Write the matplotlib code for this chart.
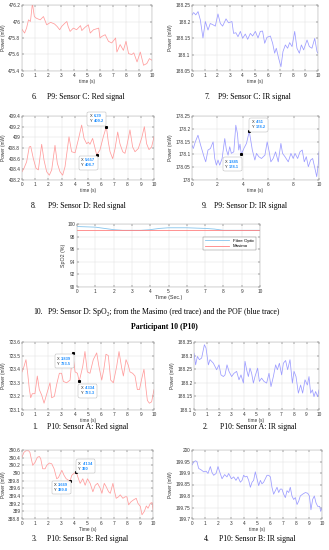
"""Page of pulse-oximetry traces: P9 sensors C/D and P10 sensors A/B."""

import matplotlib

matplotlib.use("Agg")
import matplotlib.pyplot as plt
from matplotlib.offsetbox import AnnotationBbox, HPacker, TextArea, VPacker
from matplotlib.ticker import FuncFormatter

W, H = 329, 550

# ---- data (time s, power mW) ----
P9C_RED = [(0, 475.905), (0.2, 475.86), (0.35, 475.92), (0.5, 476.02), (0.65, 476.0), (0.8, 476.22),
           (0.95, 476.06), (1.1, 476.04), (1.4, 476.02), (1.65, 476.06), (1.9, 475.96), (2.2, 475.99),
           (2.5, 475.97), (2.7, 475.94), (2.9, 475.9), (3.05, 475.94), (3.3, 475.98), (3.45, 476.0),
           (3.55, 475.94), (3.7, 475.88), (3.95, 475.92), (4.2, 475.9), (4.5, 475.95), (4.6, 475.89),
           (4.85, 475.93), (5.1, 475.96), (5.25, 475.86), (5.5, 475.9), (5.9, 475.92), (6.0, 475.8),
           (6.15, 475.82), (6.4, 475.84), (6.65, 475.76), (6.9, 475.74), (7.2, 475.8), (7.3, 475.63),
           (7.55, 475.72), (7.8, 475.65), (8.0, 475.76), (8.2, 475.61), (8.45, 475.6), (8.6, 475.62),
           (8.85, 475.51), (9.1, 475.63), (9.35, 475.47), (9.6, 475.49), (9.8, 475.55), (10, 475.53)]

P9C_IR = [(0, 188.22), (0.13, 188.227), (0.3, 188.22), (0.48, 188.23), (0.66, 188.205), (0.87, 188.15),
          (1.06, 188.2), (1.27, 188.174), (1.45, 188.194), (1.67, 188.19), (1.85, 188.186), (2.06, 188.223),
          (2.25, 188.194), (2.43, 188.186), (2.7, 188.208), (2.9, 188.196), (3.17, 188.2), (3.3, 188.164),
          (3.48, 188.166), (3.65, 188.154), (3.84, 188.17), (4.02, 188.149), (4.23, 188.162), (4.42, 188.146),
          (4.63, 188.164), (4.81, 188.156), (5.03, 188.17), (5.24, 188.15), (5.42, 188.17), (5.6, 188.171),
          (5.77, 188.134), (5.95, 188.152), (6.22, 188.156), (6.4, 188.134), (6.56, 188.104), (6.69, 188.119),
          (6.88, 188.088), (7.06, 188.063), (7.22, 188.109), (7.41, 188.129), (7.59, 188.119), (7.75, 188.136),
          (7.94, 188.124), (8.15, 188.17), (8.33, 188.119), (8.52, 188.104), (8.68, 188.129), (8.86, 188.114),
          (9.13, 188.144), (9.31, 188.124), (9.52, 188.119), (9.74, 188.149), (9.92, 188.109), (10, 188.104)]

P9D_RED = [(0, 408.355), (0.15, 408.42), (0.35, 408.54), (0.55, 408.82), (0.66, 408.83), (0.86, 408.6),
           (1.06, 408.42), (1.24, 408.39), (1.49, 408.87), (1.67, 408.57), (1.87, 408.355), (2.07, 408.29),
           (2.25, 408.39), (2.5, 408.85), (2.68, 408.51), (2.88, 408.355), (3.08, 408.29), (3.26, 408.45),
           (3.56, 409.01), (3.76, 408.73), (4.02, 408.71), (4.27, 408.96), (4.52, 409.23), (4.7, 408.98),
           (4.9, 408.88), (5.03, 408.91), (5.15, 408.87), (5.35, 408.98), (5.657, 408.67), (5.9, 408.76),
           (6.16, 409.01), (6.39, 409.2), (6.54, 408.91), (6.67, 408.73), (6.87, 408.6), (7.05, 408.79),
           (7.25, 409.1), (7.42, 408.88), (7.63, 408.73), (7.8, 408.7), (7.95, 408.85), (8.18, 409.14),
           (8.38, 408.82), (8.56, 408.73), (8.81, 408.79), (9.07, 408.99), (9.27, 409.2), (9.44, 408.88),
           (9.62, 408.77), (9.82, 408.82), (10, 409.01)]

P9D_IR = [(0, 178.136), (0.1, 178.123), (0.26, 178.149), (0.47, 178.175), (0.68, 178.136), (0.95, 178.09),
          (1.08, 178.071), (1.26, 178.117), (1.45, 178.123), (1.66, 178.149), (1.79, 178.084), (1.92, 178.058),
          (2.05, 178.078), (2.18, 178.058), (2.37, 178.084), (2.58, 178.162), (2.71, 178.117), (2.84, 178.097),
          (2.97, 178.13), (3.1, 178.104), (3.29, 178.11), (3.45, 178.214), (3.58, 178.181), (3.68, 178.117),
          (3.78, 178.14), (3.885, 178.1), (4.1, 178.125), (4.29, 178.143), (4.51, 178.19), (4.75, 178.117),
          (4.95, 178.078), (5.08, 178.104), (5.26, 178.091), (5.47, 178.084), (5.74, 178.097), (5.92, 178.149),
          (6.08, 178.11), (6.21, 178.071), (6.39, 178.084), (6.58, 178.11), (6.79, 178.071), (7.0, 178.143),
          (7.13, 178.104), (7.32, 178.091), (7.58, 178.071), (7.79, 178.104), (7.97, 178.084), (8.11, 178.104),
          (8.32, 178.084), (8.5, 178.11), (8.68, 178.117), (8.84, 178.071), (9.0, 178.091), (9.16, 178.052),
          (9.34, 178.078), (9.5, 178.084), (9.68, 178.045), (9.82, 178.013), (9.95, 178.065), (10, 178.11)]

FIBRE_T = [0, 1, 1.5, 2, 2.5, 3, 3.5, 4, 4.5, 5, 5.5, 6, 6.5, 7, 7.5, 8, 9, 10]
FIBRE_V = [99.6, 99.5, 99.3, 99.1, 99.0, 99.0, 99.0, 99.1, 99.3, 99.4, 99.4, 99.4, 99.35, 99.3, 99.2,
           99.0, 99.0, 99.0]
MASIMO_T = [0, 1, 2, 3, 4, 5, 6, 7, 8, 9, 10]
MASIMO_V = [99, 99, 99, 99, 99, 99, 99, 99, 99, 99, 99]

P10A_RED = [(0, 723.38), (0.15, 723.42), (0.3, 723.47), (0.43, 723.37), (0.56, 723.25), (0.66, 723.19),
            (0.78, 723.22), (0.98, 723.22), (1.16, 723.35), (1.31, 723.25), (1.49, 723.21), (1.67, 723.15),
            (1.82, 723.2), (2.0, 723.26), (2.12, 723.3), (2.25, 723.19), (2.45, 723.2), (2.63, 723.29),
            (2.83, 723.37), (3.0, 723.37), (3.13, 723.31), (3.38, 723.3), (3.64, 723.32), (3.839, 723.52),
            (4.02, 723.38), (4.2, 723.37), (4.334, 723.31), (4.6, 723.42), (4.77, 723.53), (4.95, 723.38),
            (5.15, 723.37), (5.4, 723.47), (5.66, 723.52), (5.83, 723.42), (6.04, 723.32), (6.2, 723.4),
            (6.36, 723.51), (6.54, 723.5), (6.72, 723.32), (6.92, 723.3), (7.17, 723.42), (7.35, 723.53),
            (7.55, 723.41), (7.68, 723.35), (7.88, 723.47), (8.05, 723.43), (8.18, 723.38), (8.38, 723.37),
            (8.56, 723.35), (8.74, 723.25), (8.9, 723.25), (9.07, 723.33), (9.24, 723.4), (9.4, 723.25),
            (9.5, 723.17), (9.65, 723.15), (9.82, 723.16), (10, 723.25)]

P10A_IR = [(0, 188.309), (0.13, 188.266), (0.27, 188.297), (0.43, 188.285), (0.61, 188.291), (0.83, 188.34),
           (0.96, 188.328), (1.15, 188.266), (1.28, 188.285), (1.55, 188.272), (1.81, 188.248), (2.0, 188.266),
           (2.16, 188.229), (2.35, 188.223), (2.48, 188.229), (2.64, 188.266), (2.8, 188.242), (3.01, 188.223),
           (3.2, 188.235), (3.41, 188.242), (3.6, 188.211), (3.76, 188.229), (3.95, 188.199), (4.08, 188.279),
           (4.21, 188.248), (4.35, 188.223), (4.48, 188.254), (4.61, 188.235), (4.75, 188.199), (4.88, 188.223),
           (5.09, 188.254), (5.23, 188.205), (5.41, 188.217), (5.6, 188.205), (5.81, 188.199), (6.0, 188.235),
           (6.16, 188.186), (6.35, 188.223), (6.53, 188.266), (6.67, 188.248), (6.83, 188.272), (7.01, 188.229),
           (7.15, 188.272), (7.33, 188.282), (7.49, 188.248), (7.68, 188.285), (7.87, 188.199), (8.0, 188.242),
           (8.16, 188.223), (8.35, 188.162), (8.53, 188.192), (8.69, 188.162), (8.88, 188.211), (9.07, 188.192),
           (9.2, 188.223), (9.33, 188.162), (9.47, 188.174), (9.6, 188.149), (9.73, 188.168), (9.89, 188.149),
           (10, 188.174)]

P10B_RED = [(0, 390.41), (0.15, 390.54), (0.3, 390.58), (0.5, 390.58), (0.6, 390.54), (0.82, 390.2),
            (1.0, 390.28), (1.17, 390.41), (1.33, 390.43), (1.43, 390.37), (1.58, 390.11), (1.76, 390.11),
            (1.89, 390.2), (2.09, 390.26), (2.27, 390.24), (2.45, 390.11), (2.65, 389.85), (2.78, 389.88),
            (3.04, 390.07), (3.21, 389.94), (3.37, 389.85), (3.669, 389.79), (3.8, 389.94), (3.93, 389.98),
            (4.134, 390.03), (4.31, 389.85), (4.44, 389.73), (4.64, 389.85), (4.82, 389.68), (5.0, 389.85),
            (5.2, 389.73), (5.41, 389.51), (5.59, 389.68), (5.77, 389.73), (5.97, 389.6), (6.1, 389.47),
            (6.28, 389.73), (6.43, 389.64), (6.61, 389.51), (6.74, 389.47), (6.94, 389.73), (7.07, 389.51),
            (7.19, 389.34), (7.37, 389.38), (7.5, 389.43), (7.7, 389.34), (7.88, 389.38), (8.01, 389.38),
            (8.14, 389.17), (8.32, 389.25), (8.52, 389.3), (8.72, 389.34), (8.85, 389.21), (9.03, 389.13),
            (9.16, 388.91), (9.34, 389.0), (9.49, 389.14), (9.62, 389.08), (9.8, 389.21), (9.93, 389.23),
            (10, 389.04)]

P10B_IR = [(0, 199.935), (0.13, 199.947), (0.26, 199.953), (0.38, 199.95), (0.51, 199.92), (0.72, 199.913),
           (0.9, 199.905), (1.08, 199.908), (1.23, 199.898), (1.41, 199.928), (1.54, 199.902), (1.67, 199.89),
           (1.85, 199.898), (2.0, 199.928), (2.13, 199.905), (2.31, 199.875), (2.51, 199.893), (2.69, 199.883),
           (2.82, 199.898), (3.03, 199.875), (3.21, 199.883), (3.38, 199.868), (3.54, 199.883), (3.72, 199.86),
           (3.85, 199.868), (3.97, 199.89), (4.1, 199.883), (4.23, 199.886), (4.36, 199.868), (4.49, 199.838),
           (4.62, 199.86), (4.74, 199.868), (4.87, 199.905), (5.0, 199.875), (5.13, 199.845), (5.26, 199.868),
           (5.38, 199.853), (5.51, 199.86), (5.64, 199.875), (5.77, 199.89), (5.9, 199.89), (6.03, 199.883),
           (6.15, 199.838), (6.28, 199.808), (6.41, 199.823), (6.54, 199.838), (6.67, 199.815), (6.79, 199.83),
           (6.92, 199.83), (7.05, 199.808), (7.18, 199.793), (7.31, 199.823), (7.44, 199.815), (7.56, 199.838),
           (7.69, 199.8), (7.82, 199.785), (7.95, 199.793), (8.08, 199.763), (8.21, 199.778), (8.33, 199.8),
           (8.51, 199.808), (8.72, 199.815), (8.9, 199.812), (9.03, 199.8), (9.15, 199.74), (9.28, 199.785),
           (9.41, 199.8), (9.54, 199.77), (9.67, 199.755), (9.82, 199.755), (9.9, 199.733), (10, 199.748)]

RED = "#ff9c9c"
IR = "#9c9cff"
TIP_BLUE = "#1f8fff"
TICK_FS = 3.4
CAP_FS = 5.6
SERIF = ["Liberation Serif", "DejaVu Serif"]

plt.rcParams["font.family"] = ["Liberation Sans", "DejaVu Sans"]

fig = plt.figure(figsize=(W / 100, H / 100), dpi=100)
fig.patch.set_facecolor("white")


def px_axes(l, t, r, b):
    return fig.add_axes([l / W, 1 - b / H, (r - l) / W, (b - t) / H])


def style(ax, xlim, ylim, xticks, yticks, xlabel, ylabel):
    ax.set_xlim(*xlim)
    ax.set_ylim(*ylim)
    ax.set_xticks(xticks)
    ax.set_yticks(yticks)
    ax.yaxis.set_major_formatter(FuncFormatter(lambda v, _: f"{round(v, 3):g}"))
    ax.tick_params(direction="in", length=1.2, width=0.3, pad=1.2,
                   labelsize=TICK_FS, colors="#333333", top=True, right=True)
    ax.grid(True, color="#dddddd", lw=0.3)
    ax.set_axisbelow(True)
    for s in ax.spines.values():
        s.set_color("#aaaaaa")
        s.set_linewidth(0.35)
    ax.set_xlabel(xlabel, fontsize=TICK_FS, labelpad=1.0, color="#333333")
    ax.set_ylabel(ylabel, fontsize=TICK_FS, labelpad=1.5, color="#333333")


def signal_panel(rect, series, color, ylim, yticks, xticks=range(11)):
    ax = px_axes(*rect)
    t, v = zip(*series)
    ax.plot(t, v, color=color, lw=0.55, clip_on=True)
    style(ax, (0, 10), ylim, list(xticks), yticks, "time (s)", "Power (mW)")
    return ax


def datatip(ax, x, y, xs, ys, off):
    ax.plot([x], [y], marker="s", ms=1.2, color="black", zorder=5)
    rows = []
    for k, val in (("X", xs), ("Y", ys)):
        rows.append(HPacker(children=[
            TextArea(k + " ", textprops=dict(fontsize=2.9, color="#222222")),
            TextArea(val, textprops=dict(fontsize=2.9, color=TIP_BLUE, weight="bold")),
        ], pad=0, sep=0.2, align="baseline"))
    box = VPacker(children=rows, pad=0, sep=0.8, align="left")
    ab = AnnotationBbox(box, (x, y), xybox=off, boxcoords="offset pixels",
                        frameon=True, pad=0.17, zorder=6,
                        bboxprops=dict(fc="white", ec="#aaaaaa", lw=0.3,
                                       boxstyle="round,pad=0.17,rounding_size=0.12"))
    ax.add_artist(ab)


def caption(num, x_num, x_txt, y, text):
    fig.text(x_num / W, 1 - y / H, num, fontsize=CAP_FS, family=SERIF, va="center")
    fig.text(x_txt / W, 1 - y / H, text, fontsize=CAP_FS, family=SERIF, va="center")


# ---- P9 sensor C ----
signal_panel((22, 5, 152, 71), P9C_RED, RED, (475.4, 476.2), [475.4, 475.6, 475.8, 476.0, 476.2])
signal_panel((192, 5, 318, 71), P9C_IR, IR, (188.05, 188.25),
             [188.05, 188.1, 188.15, 188.2, 188.25])
caption("6.", 32, 47, 97, "P9: Sensor C: Red signal")
caption("7.", 205, 218, 97, "P9: Sensor C: IR signal")

# ---- P9 sensor D ----
ax = signal_panel((22, 116, 154, 180), P9D_RED, RED, (408.2, 409.4),
                  [408.2, 408.4, 408.6, 408.8, 409.0, 409.2, 409.4])
datatip(ax, 6.39, 409.2, "6.39", "409.2", (-9.5, 8))
datatip(ax, 5.657, 408.67, "5.657", "408.7", (-8.5, -8))
ax = signal_panel((192, 116, 319, 180), P9D_IR, IR, (178.0, 178.25),
                  [178.0, 178.05, 178.1, 178.15, 178.2, 178.25], xticks=range(0, 11, 2))
datatip(ax, 4.51, 178.19, "4.51", "178.2", (9.5, 6.5))
datatip(ax, 3.885, 178.1, "3.885", "178.1", (-9, -10))
caption("8.", 31, 48, 206, "P9: Sensor D: Red signal")
caption("9.", 202, 214, 206, "P9: Sensor D: IR signal")

# ---- P9 SpO2 ----
ax = px_axes(77, 224, 260, 287)
ax.plot(FIBRE_T, FIBRE_V, color="#86c4ec", lw=0.6, label="Fibre Optic")
ax.plot(MASIMO_T, MASIMO_V, color="#ff8080", lw=0.6, label="Masimo")
style(ax, (0, 10), (90, 100), list(range(11)), [90, 92, 94, 96, 98, 100], "Time (Sec.)", "SpO2 (%)")
ax.xaxis.label.set_fontsize(3.8)
ax.yaxis.label.set_fontsize(3.8)
ax.legend(loc="upper right", bbox_to_anchor=(0.99, 0.83), fontsize=3.2, frameon=True,
          fancybox=False, edgecolor="#555555", handlelength=5.5, borderpad=0.4,
          labelspacing=0.3, handletextpad=0.8).get_frame().set_linewidth(0.3)
fig.text(33 / W, 1 - 312 / H, "10.", fontsize=CAP_FS, family=SERIF, va="center")
fig.text(48 / W, 1 - 312 / H,
         "P9: Sensor D: SpO\u2082; from the Masimo (red trace) and the POF (blue trace)",
         fontsize=CAP_FS, family=SERIF, va="center")
fig.text(0.5, 1 - 327 / H, "Participant 10 (P10)", fontsize=CAP_FS, family=SERIF,
         weight="bold", ha="center", va="center")

# ---- P10 sensor A ----
ax = signal_panel((22, 342, 154, 410), P10A_RED, RED, (723.1, 723.6),
                  [723.1, 723.2, 723.3, 723.4, 723.5, 723.6])
datatip(ax, 3.839, 723.52, "3.839", "723.5", (-8.5, -8.5))
datatip(ax, 4.334, 723.31, "4.334", "723.3", (8.5, -9.5))
signal_panel((194, 342, 319, 410), P10A_IR, IR, (188.1, 188.35),
             [188.1, 188.15, 188.2, 188.25, 188.3, 188.35])
caption("1.", 32, 47, 427, "P10: Sensor A: Red signal")
caption("2.", 203, 220, 427, "P10: Sensor A: IR signal")

# ---- P10 sensor B ----
ax = signal_panel((22, 450, 153, 519), P10B_RED, RED, (388.8, 390.6),
                  [388.8, 389.0, 389.2, 389.4, 389.6, 389.8, 390.0, 390.2, 390.4, 390.6])
ax.xaxis.label.set_text("Time (s)")
datatip(ax, 4.134, 390.03, "4.134", "390", (9.5, 5.5))
datatip(ax, 3.669, 389.79, "3.669", "389.8", (-9, -6.5))
signal_panel((192, 450, 322, 519), P10B_IR, IR, (199.7, 200.0),
             [199.7, 199.75, 199.8, 199.85, 199.9, 199.95, 200.0])
caption("3.", 32, 47, 539, "P10: Sensor B: Red signal")
caption("4.", 204, 219, 539, "P10: Sensor B: IR signal")

fig.savefig("out.png", dpi=100, facecolor="white")
